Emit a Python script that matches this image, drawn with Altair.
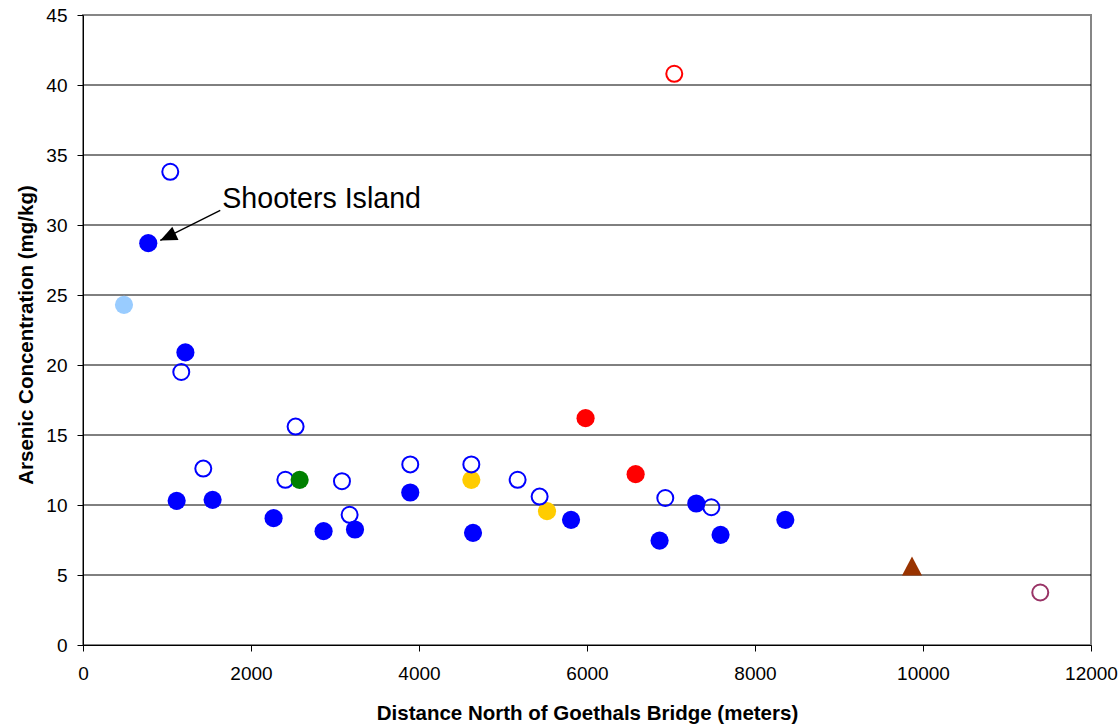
import altair as alt
import pandas as pd

FONT = "Liberation Sans"

# ---- data ----
filled_blue_x = [777, 1219, 1115, 1543, 2269, 2864, 3238, 3896, 4643, 5810, 6864, 7301, 7590, 8361]
filled_blue_y = [28.7, 20.9, 10.3, 10.37, 9.06, 8.13, 8.25, 10.89, 8.01, 8.94, 7.46, 10.11, 7.87, 8.94]

open_blue_x = [1039, 1170, 1432, 2409, 2531, 3083, 3174, 3896, 4623, 5174, 5436, 6932, 7480]
open_blue_y = [33.8, 19.5, 12.6, 11.8, 15.6, 11.7, 9.3, 12.9, 12.9, 11.8, 10.6, 10.5, 9.84]

light_blue_x = [488]
light_blue_y = [24.3]

green_x = [2579]
green_y = [11.8]

yellow_x = [4623, 5524]
yellow_y = [11.8, 9.56]

red_x = [5983, 6579]
red_y = [16.2, 12.2]

red_open_x = [7039]
red_open_y = [40.8]

brown_tri_x = [9869]
brown_tri_y = [5.64]

purple_open_x = [11396]
purple_open_y = [3.75]

x_ticks = [0, 2000, 4000, 6000, 8000, 10000, 12000]
y_ticks = [0, 5, 10, 15, 20, 25, 30, 35, 40, 45]
grid_values = [5, 10, 15, 20, 25, 30, 35, 40]

label_text = ["Shooters Island"]
label_x = [1658]
label_y = [31.2]
arrow_x = [1634]
arrow_y = [31.04]
arrow_tip_x = [920]
arrow_tip_y = [28.9]

# ---- scales / axes ----
xscale = alt.Scale(domain=[0, 12000], nice=False, zero=False)
yscale = alt.Scale(domain=[0, 45], nice=False, zero=False)

xaxis = alt.Axis(
    values=x_ticks, format="d", grid=False, tickSize=6, tickColor="#000",
    domainColor="#000", domainWidth=1, labelFontSize=19, labelFont=FONT,
    labelColor="#000", labelPadding=13, labelFlush=False, labelOverlap=False,
    title="Distance North of Goethals Bridge (meters)", titleFont=FONT,
    titleFontSize=20.5, titleFontWeight="bold", titleColor="#000",
    titleBaseline="alphabetic", titleY=74.5,
)
yaxis = alt.Axis(
    values=y_ticks, format="d", grid=False, tickSize=6, tickColor="#000",
    domainColor="#000", domainWidth=1, labelFontSize=19, labelFont=FONT,
    labelColor="#000", labelPadding=10, labelFlush=False, labelOverlap=False,
    title="Arsenic Concentration (mg/kg)", titleFont=FONT,
    titleFontSize=20.5, titleFontWeight="bold", titleColor="#000",
    titleBaseline="alphabetic", titleX=-50.7, titleY=319.5,
)


def df(xs, ys):
    return pd.DataFrame({"x": xs, "y": ys})


def enc(chart):
    return chart.encode(
        x=alt.X("x:Q", scale=xscale, axis=xaxis),
        y=alt.Y("y:Q", scale=yscale, axis=yaxis),
    )


grid = alt.Chart(pd.DataFrame({"v": grid_values})).mark_rule(
    color="#000", strokeWidth=1
).encode(y=alt.Y("v:Q", scale=yscale, axis=yaxis))


def filled(xs, ys, color, size=330):
    return enc(alt.Chart(df(xs, ys)).mark_point(
        shape="circle", filled=True, color=color, size=size, opacity=1, strokeWidth=0))


def hollow(xs, ys, color, size=256):
    return enc(alt.Chart(df(xs, ys)).mark_point(
        shape="circle", filled=False, color=color, size=size, opacity=1, strokeWidth=2))


tri = enc(alt.Chart(df(brown_tri_x, brown_tri_y)).mark_point(
    shape="M0,-0.95L1,0.95L-1,0.95Z", filled=True, color="#993300", size=400,
    opacity=1, strokeWidth=0))

label = alt.Chart(pd.DataFrame({"x": label_x, "y": label_y, "t": label_text})).mark_text(
    align="left", baseline="alphabetic", fontSize=28.6, font=FONT, color="#000"
).encode(x=alt.X("x:Q", scale=xscale, axis=xaxis), y=alt.Y("y:Q", scale=yscale, axis=yaxis), text="t:N")

arrow_line = alt.Chart(pd.DataFrame({"x": arrow_x, "y": arrow_y, "x2": arrow_tip_x, "y2": arrow_tip_y})).mark_rule(
    color="#000", strokeWidth=1.4
).encode(
    x=alt.X("x:Q", scale=xscale, axis=xaxis), y=alt.Y("y:Q", scale=yscale, axis=yaxis),
    x2="x2:Q", y2="y2:Q",
)

arrow_head = enc(alt.Chart(df(arrow_tip_x, arrow_tip_y)).mark_point(
    shape="M0,0L-0.45,1.03L0.45,1.03Z", filled=True, color="#000", size=1050,
    opacity=1, strokeWidth=0, angle=245))

chart = alt.layer(
    grid,
    filled(filled_blue_x, filled_blue_y, "#0000FF"),
    filled(light_blue_x, light_blue_y, "#99CCFF"),
    filled(yellow_x, yellow_y, "#FFCC00"),
    hollow(open_blue_x, open_blue_y, "#0000FF"),
    filled(green_x, green_y, "#008000"),
    filled(red_x, red_y, "#FF0000"),
    hollow(red_open_x, red_open_y, "#FF0000"),
    tri,
    hollow(purple_open_x, purple_open_y, "#993366"),
    arrow_line,
    arrow_head,
    label,
).properties(
    width=1008, height=630,
    autosize=alt.AutoSizeParams(type="none"),
    padding={"left": 83, "top": 15, "right": 29, "bottom": 81},
    background="#FFFFFF",
).configure_view(stroke="#868686", strokeWidth=2)

chart.save("out.html", embed_options={"renderer": "svg", "actions": False})
